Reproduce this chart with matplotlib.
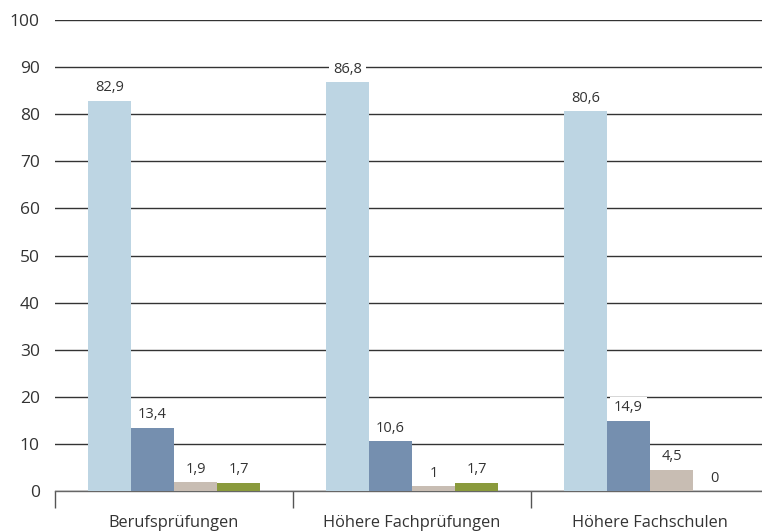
import matplotlib.pyplot as plt
import numpy as np

categories = ["Berufsprüfungen", "Höhere Fachprüfungen", "Höhere Fachschulen"]
series_a = [82.9, 86.8, 80.6]
series_b = [13.4, 10.6, 14.9]
series_c = [1.9, 1.0, 4.5]
series_d = [1.7, 1.7, 0.0]
colors = ["#bdd5e3", "#758faf", "#c8bdb3", "#8a9a3c"]

plt.rcParams['font.family'] = ['Open Sans', 'DejaVu Sans']

W, H = 762, 532
fig = plt.figure(figsize=(W / 100, H / 100), dpi=100)
ax = fig.add_axes([55 / W, (H - 491) / H, 714 / W, 471 / H])

width = 43 / 238
x = np.arange(len(categories)) + 0.5
all_series = [series_a, series_b, series_c, series_d]

for i, (vals, col) in enumerate(zip(all_series, colors)):
    pos = x + (i - 1.5) * width
    ax.bar(pos, vals, width, color=col, zorder=3)
    for p, v in zip(pos, vals):
        txt = f"{v:g}".replace(".", ",")
        ax.annotate(txt, (p, v), xytext=(0, 13), textcoords="offset pixels",
                    ha="center", va="center", fontsize=10.5, color="#333333",
                    zorder=4,
                    bbox=dict(boxstyle="square,pad=0.25", fc="white", ec="none"))

ax.set_xlim(0, 3)
ax.set_ylim(0, 100)
ax.set_yticks(range(0, 101, 10))
ax.yaxis.grid(True, color="#333333", linewidth=1, zorder=0)
ax.set_axisbelow(True)

ax.set_xticks(x)
ax.set_xticklabels(categories)
ax.set_xticks([0, 1, 2, 3], minor=True)
ax.tick_params(axis="x", which="major", length=0, pad=17, labelsize=11.8, labelcolor="#333333")
ax.tick_params(axis="x", which="minor", length=12, width=1, color="#555555")
ax.tick_params(axis="y", length=0, pad=11, labelsize=12.5, labelcolor="#333333")

for s in ["top", "right", "left"]:
    ax.spines[s].set_visible(False)
ax.spines["bottom"].set_color("#666666")
ax.spines["bottom"].set_linewidth(1)

fig.savefig("out.png", dpi=100)
